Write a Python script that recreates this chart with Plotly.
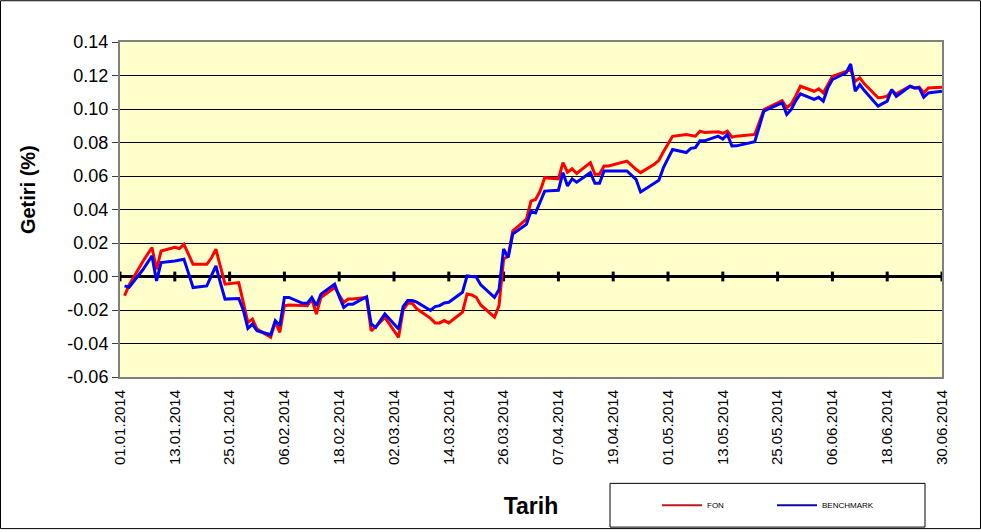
import plotly.graph_objects as go

dates = [
    "2014-01-02", "2014-01-03", "2014-01-06", "2014-01-07", "2014-01-08", "2014-01-09", "2014-01-10",
    "2014-01-13", "2014-01-14", "2014-01-15", "2014-01-16", "2014-01-17", "2014-01-20", "2014-01-21",
    "2014-01-22", "2014-01-23", "2014-01-24", "2014-01-27", "2014-01-28", "2014-01-29", "2014-01-30",
    "2014-01-31", "2014-02-03", "2014-02-04", "2014-02-05", "2014-02-06", "2014-02-07", "2014-02-10",
    "2014-02-11", "2014-02-12", "2014-02-13", "2014-02-14", "2014-02-17", "2014-02-18", "2014-02-19",
    "2014-02-20", "2014-02-21", "2014-02-24", "2014-02-25", "2014-02-26", "2014-02-27", "2014-02-28",
    "2014-03-03", "2014-03-04", "2014-03-05", "2014-03-06", "2014-03-07", "2014-03-10", "2014-03-11",
    "2014-03-12", "2014-03-13", "2014-03-14", "2014-03-17", "2014-03-18", "2014-03-19", "2014-03-20",
    "2014-03-21", "2014-03-24", "2014-03-25", "2014-03-26", "2014-03-27", "2014-03-28", "2014-03-31",
    "2014-04-01", "2014-04-02", "2014-04-03", "2014-04-04", "2014-04-07", "2014-04-08", "2014-04-09",
    "2014-04-10", "2014-04-11", "2014-04-14", "2014-04-15", "2014-04-16", "2014-04-17", "2014-04-18",
    "2014-04-21", "2014-04-22", "2014-04-24", "2014-04-25", "2014-04-28", "2014-04-29", "2014-04-30",
    "2014-05-02", "2014-05-05", "2014-05-06", "2014-05-07", "2014-05-08", "2014-05-09", "2014-05-12",
    "2014-05-13", "2014-05-14", "2014-05-15", "2014-05-16", "2014-05-20", "2014-05-21", "2014-05-22",
    "2014-05-23", "2014-05-26", "2014-05-27", "2014-05-28", "2014-05-29", "2014-05-30", "2014-06-02",
    "2014-06-03", "2014-06-04", "2014-06-05", "2014-06-06", "2014-06-09", "2014-06-10", "2014-06-11",
    "2014-06-12", "2014-06-13", "2014-06-16", "2014-06-17", "2014-06-18", "2014-06-19", "2014-06-20",
    "2014-06-23", "2014-06-24", "2014-06-25", "2014-06-26", "2014-06-27", "2014-06-30",
]

fon = [
    -0.0115, -0.0050, 0.0090, 0.0130, 0.0173, 0.0043, 0.0152,
    0.0175, 0.0167, 0.0192, 0.0130, 0.0073, 0.0073, 0.0110,
    0.0163, 0.0050, -0.0046, -0.0036, -0.0150, -0.0274, -0.0254,
    -0.0314, -0.0363, -0.0270, -0.0333, -0.0175, -0.0170, -0.0172,
    -0.0175, -0.0135, -0.0224, -0.0125, -0.0066, -0.0110, -0.0155,
    -0.0135, -0.0135, -0.0125, -0.0324, -0.0300, -0.0270, -0.0244,
    -0.0363, -0.0200, -0.0160, -0.0160, -0.0193, -0.0250, -0.0277,
    -0.0277, -0.0263, -0.0277, -0.0213, -0.0104, -0.0110, -0.0124,
    -0.0170, -0.0243, -0.0174, 0.0104, 0.0120, 0.0272, 0.0342,
    0.0450, 0.0460, 0.0510, 0.0590, 0.0583, 0.0680, 0.0623,
    0.0643, 0.0615, 0.0680, 0.0610, 0.0610, 0.0660, 0.0660,
    0.0683, 0.0689, 0.0640, 0.0620, 0.0670, 0.0694, 0.0745,
    0.0837, 0.0848, 0.0845, 0.0838, 0.0868, 0.0860, 0.0864,
    0.0855, 0.0868, 0.0832, 0.0838, 0.0848, 0.0920, 0.0997,
    0.1010, 0.1050, 0.1007, 0.1030, 0.1080, 0.1136, 0.1106,
    0.1120, 0.1096, 0.1150, 0.1195, 0.1225, 0.1235, 0.1165,
    0.1186, 0.1150, 0.1067, 0.1070, 0.1076, 0.1110, 0.1090,
    0.1136, 0.1126, 0.1130, 0.1096, 0.1126, 0.1130,
]

benchmark = [
    -0.0056, -0.0064, 0.0040, 0.0080, 0.0123, -0.0026, 0.0083,
    0.0093, 0.0098, 0.0103, 0.0020, -0.0066, -0.0056, 0.0000,
    0.0063, -0.0040, -0.0135, -0.0131, -0.0200, -0.0310, -0.0284,
    -0.0324, -0.0348, -0.0264, -0.0294, -0.0125, -0.0125, -0.0160,
    -0.0160, -0.0125, -0.0175, -0.0105, -0.0046, -0.0120, -0.0185,
    -0.0165, -0.0165, -0.0121, -0.0284, -0.0304, -0.0260, -0.0224,
    -0.0314, -0.0180, -0.0144, -0.0144, -0.0153, -0.0203, -0.0180,
    -0.0174, -0.0158, -0.0154, -0.0094, 0.0004, 0.0000, -0.0003,
    -0.0050, -0.0125, -0.0078, 0.0164, 0.0113, 0.0253, 0.0312,
    0.0390, 0.0380, 0.0440, 0.0510, 0.0515, 0.0620, 0.0540,
    0.0583, 0.0563, 0.0620, 0.0556, 0.0556, 0.0630, 0.0630,
    0.0630, 0.0630, 0.0580, 0.0504, 0.0557, 0.0575, 0.0650,
    0.0758, 0.0740, 0.0765, 0.0769, 0.0810, 0.0810, 0.0838,
    0.0820, 0.0848, 0.0779, 0.0780, 0.0805, 0.0900, 0.0987,
    0.1000, 0.1037, 0.0967, 0.0997, 0.1050, 0.1090, 0.1057,
    0.1070, 0.1047, 0.1126, 0.1176, 0.1215, 0.1269, 0.1106,
    0.1146, 0.1110, 0.1017, 0.1030, 0.1047, 0.1116, 0.1076,
    0.1136, 0.1126, 0.1126, 0.1070, 0.1096, 0.1106,
]

x_tick_dates = [
    "2014-01-01", "2014-01-13", "2014-01-25", "2014-02-06", "2014-02-18", "2014-03-02",
    "2014-03-14", "2014-03-26", "2014-04-07", "2014-04-19", "2014-05-01", "2014-05-13",
    "2014-05-25", "2014-06-06", "2014-06-18", "2014-06-30",
]
x_tick_labels = [
    "01.01.2014", "13.01.2014", "25.01.2014", "06.02.2014", "18.02.2014", "02.03.2014",
    "14.03.2014", "26.03.2014", "07.04.2014", "19.04.2014", "01.05.2014", "13.05.2014",
    "25.05.2014", "06.06.2014", "18.06.2014", "30.06.2014",
]
y_ticks = [-0.06, -0.04, -0.02, 0.00, 0.02, 0.04, 0.06, 0.08, 0.10, 0.12, 0.14]

FONT = "Liberation Sans, Arial, sans-serif"

fig = go.Figure()
# category-axis tick marks on the zero line (Excel style)
fig.add_trace(go.Scatter(
    x=x_tick_dates, y=[0] * len(x_tick_dates), mode="markers",
    marker=dict(symbol="line-ns", size=7, line=dict(color="black", width=3)),
    showlegend=False, hoverinfo="skip", cliponaxis=False,
))
fig.add_trace(go.Scatter(x=dates, y=fon, mode="lines", name="FON",
                         line=dict(color="#FF0000", width=3),
                         legendgroup="fon", showlegend=False))
fig.add_trace(go.Scatter(x=dates, y=benchmark, mode="lines", name="BENCHMARK",
                         line=dict(color="#0000FF", width=3),
                         legendgroup="bm", showlegend=False))
# legend entries (thinner, darker swatches as in the reference)
fig.add_trace(go.Scatter(x=[None], y=[None], mode="lines", name="FON",
                         line=dict(color="#C01818", width=2), legendgroup="fon"))
fig.add_trace(go.Scatter(x=[None], y=[None], mode="lines", name="BENCHMARK",
                         line=dict(color="#0A0A9A", width=2), legendgroup="bm"))

L, R, T, B = 120, 39, 42, 153
pw, ph = 981 - L - R, 532 - T - B

fig.update_layout(
    width=981, height=532,
    margin=dict(l=L, r=R, t=T, b=B, pad=0),
    paper_bgcolor="white",
    plot_bgcolor="#FFFFCC",
    font=dict(family=FONT, color="black"),
    xaxis=dict(
        type="date", range=["2014-01-01", "2014-06-30"], automargin=False,
        tickvals=x_tick_dates, ticktext=x_tick_labels, tickangle=-90,
        tickfont=dict(size=15), ticks="outside", ticklen=5, tickcolor="rgba(0,0,0,0)",
        showgrid=False, zeroline=False,
        showline=True, linecolor="#808080", linewidth=2, mirror=True,
        title=dict(text="<b>Tarih</b>", font=dict(size=23), standoff=34),
    ),
    yaxis=dict(
        range=[-0.06, 0.14], tickvals=y_ticks, automargin=False,
        ticktext=[f"{v:.2f}" for v in y_ticks], tickfont=dict(size=18),
        ticks="outside", ticklen=6, tickcolor="#404040",
        showgrid=True, gridcolor="black", gridwidth=1,
        zeroline=True, zerolinecolor="black", zerolinewidth=3,
        showline=True, linecolor="#808080", linewidth=2, mirror=True,
    ),
    annotations=[
        dict(text="<b>Getiri (%)</b>", textangle=-90, showarrow=False,
             xref="paper", yref="paper", x=(28 - L) / pw, y=(379 - 191) / ph,
             xanchor="center", yanchor="middle", font=dict(size=20)),
    ],
    legend=dict(
        orientation="h", x=(657 - L) / pw, y=(379 - 508) / ph,
        xanchor="left", yanchor="middle",
        font=dict(size=8), itemwidth=40, entrywidth=60,
        bgcolor="rgba(0,0,0,0)",
    ),
    shapes=[
        dict(type="rect", xref="paper", yref="paper",
             x0=(610 - L) / pw, x1=(925 - L) / pw,
             y0=(379 - 530) / ph, y1=(379 - 486) / ph,
             line=dict(color="black", width=1)),
        dict(type="rect", xref="paper", yref="paper",
             x0=(0.5 - L) / pw, x1=(980.5 - L) / pw,
             y0=(379 - 531.5) / ph, y1=(379 - 0.5) / ph,
             line=dict(color="black", width=1)),
    ],
)

fig.write_html("out.html")
